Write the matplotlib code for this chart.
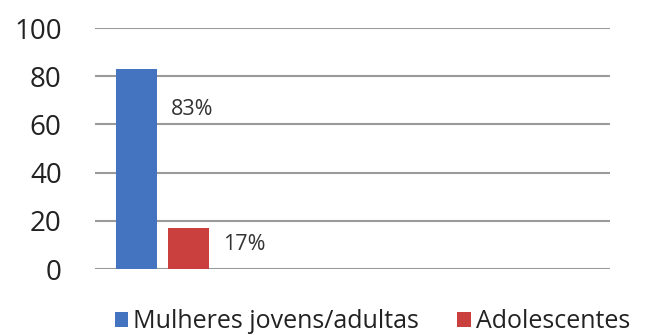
import matplotlib
matplotlib.use("Agg")
import matplotlib.pyplot as plt
from matplotlib.patches import Patch

categories = ["Mulheres jovens/adultas", "Adolescentes"]
values = [83, 17]
labels = ["83%", "17%"]
colors = ["#4474C0", "#C9403F"]
yticks = [0, 20, 40, 60, 80, 100]

plt.rcParams['font.family'] = ['Open Sans', 'DejaVu Sans']

fig = plt.figure(figsize=(6.53, 3.35), dpi=100)
ax = fig.add_axes([0.1455, 0.197, 0.789, 0.719])

xpos = [1.0, 2.28]
ax.bar(xpos, values, width=1.0, color=colors, zorder=3)
for x, v, lab in zip(xpos, values, labels):
    ax.text(x + 0.84, v * 0.8 if v > 50 else v * 0.6, lab, fontsize=15.5,
            color="#333333", ha="left", va="center", zorder=4)

ax.set_ylim(0, 100)
ax.set_xlim(0, 12.56)
ax.set_yticks(yticks)
ax.set_xticks([])
ax.yaxis.grid(True, color="#9a9a9a", linewidth=1.5, zorder=0)
for s in ax.spines.values():
    s.set_visible(False)
ax.tick_params(axis='y', length=0, labelsize=20, colors="#222222", pad=24)

handles = [Patch(facecolor=c) for c in colors]
fig.legend(handles, categories, loc="lower center", bbox_to_anchor=(0.57, -0.065),
           ncol=2, frameon=False, fontsize=18, handlelength=0.55, handleheight=0.55,
           handletextpad=0.2, columnspacing=1.5, labelcolor="#222222")

fig.savefig("out.png", dpi=100)
